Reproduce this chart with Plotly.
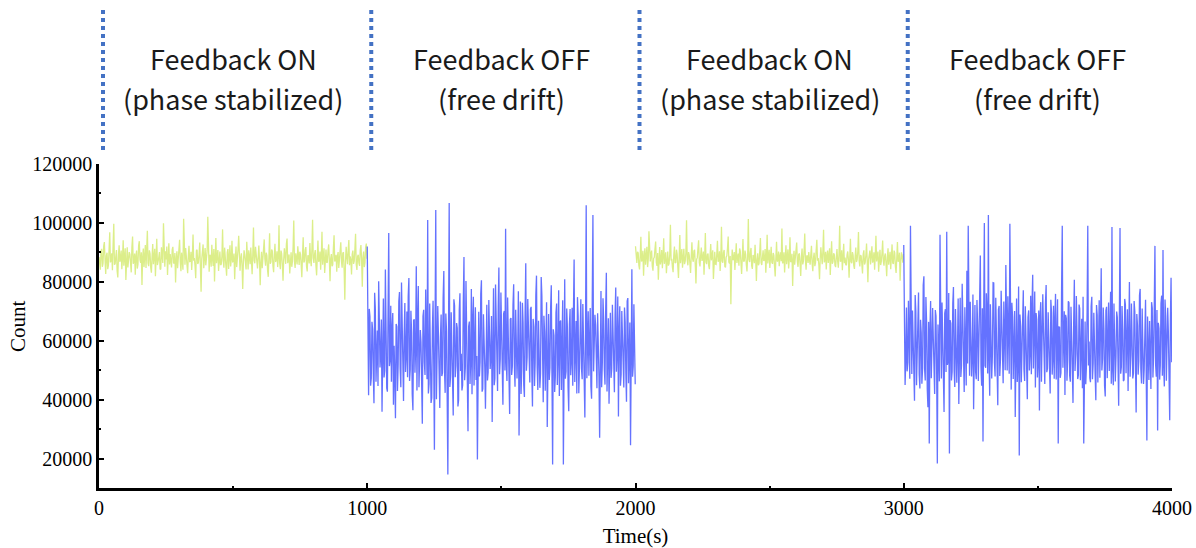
import numpy as np
import plotly.graph_objects as go

# ---------------- data ----------------
segment_starts = [0, 1000, 2000, 3000]
segment_length = 1000
boundaries = [0, 1000, 2000, 3000, 4000]
labels_top = ["Feedback ON", "Feedback OFF", "Feedback ON", "Feedback OFF"]
labels_bottom = ["(phase stabilized)", "(free drift)", "(phase stabilized)", "(free drift)"]

on_1 = [
    88400, 86200, 84100, 90300, 91200, 85100, 86300, 92100, 93500, 87400, 82700, 88900, 89900, 84300, 85600, 91000, 96800, 86600, 87200, 89700,
    83900, 92600, 99700, 85800, 86100, 88500, 90800, 83700, 81500, 89300, 92400, 86800, 87700, 90600, 84300, 88000, 94100, 85500, 88900, 91400,
    80600, 87900, 91700, 84900, 86800, 90100, 89300, 85400, 83200, 91800, 95400, 86100, 87100, 89600, 82400, 88700, 90600, 84500, 85900, 92300,
    93800, 87500, 86400, 90000, 78900, 88400, 91300, 85000, 88200, 92500, 84700, 89100, 97300, 86300, 85300, 90700, 89600, 84800, 83100, 88600,
    92800, 86000, 87900, 91200, 81900, 89000, 94600, 85700, 86700, 88300, 90100, 84200, 84400, 91700, 88800, 86400, 99900, 87600, 85100, 90400,
    87600, 92000, 82300, 88100, 93100, 85900, 89400, 87000, 84900, 90900, 91900, 86500, 86200, 89800, 79800, 87300, 90400, 84600, 88600, 91300,
    94300, 86700, 83600, 89900, 87300, 84100, 101400, 88200, 85800, 91500, 89200, 85200, 82900, 88800, 92200, 86900, 87000, 90200, 84000, 88500,
    96100, 87200, 88100, 85300, 81200, 90600, 90900, 86100, 86500, 89400, 93300, 84700, 76600, 87800, 89800, 92700, 84600, 88900, 91500, 85600,
    87400, 90500, 102100, 86400, 83400, 89200, 88700, 85100, 92600, 87900, 85400, 91100, 80100, 88000, 94900, 86300, 87800, 90800, 83700, 89500,
    90300, 85700, 86000, 88700, 97800, 87100, 84800, 91600, 89100, 86600, 82100, 90000, 91100, 84400, 88300, 92400, 85200, 87700, 93900, 86800,
    86900, 89600, 80900, 87400, 92000, 85000, 87500, 90900, 95600, 86200, 83800, 88100, 89700, 85300, 77600, 86900, 90700, 89000, 86600, 84200,
    93600, 88300, 84200, 90700, 88500, 86000, 91600, 84900, 82600, 89500, 98400, 87300, 86300, 91900, 89000, 85800, 84500, 88400, 92300, 87100,
    78800, 86500, 90200, 84600, 87200, 91300, 94400, 87800, 85500, 89900, 88900, 83900, 81700, 88600, 96500, 86100, 86800, 91000, 90500, 85400,
    83300, 89100, 92900, 86700, 87700, 90400, 85000, 88200, 99200, 86400, 84300, 90600, 89500, 85600, 80400, 87500, 91400, 88800, 86100, 92800,
    94700, 86300, 88000, 89300, 82800, 87700, 90000, 85100, 86900, 91800, 100800, 87000, 84700, 89700, 88400, 85900, 92100, 87300, 85700, 90200,
    89300, 86000, 81600, 88900, 95100, 86600, 87100, 90800, 91800, 85200, 83500, 89000, 88700, 86200, 93200, 87600, 85300, 91200, 101100, 88100,
    86400, 89400, 90800, 85500, 82200, 88300, 94000, 86800, 87300, 90300, 84100, 88700, 97000, 85800, 88800, 91400, 83000, 87200, 91000, 86500,
    86700, 90600, 92700, 87100, 80200, 88000, 89400, 85300, 85800, 91600, 95800, 86900, 87600, 89200, 83400, 88500, 90100, 84700, 88200, 92100,
    93400, 87000, 84800, 89800, 89900, 83800, 73900, 86800, 91900, 88400, 86000, 90700, 94200, 85600, 88600, 87400, 82500, 89300, 90600, 86100,
    87000, 91100, 96300, 85900, 84000, 88600, 89200, 86300, 85400, 90900, 92500, 87500, 78300, 88100, 90300, 85000, 86500, 91700, 93000, 87800,
]

off_2 = [
    92000, 52000, 41500, 70800, 68200, 44700, 47300, 66400, 63900, 48800, 38800, 76300, 71200, 46100, 52400, 63500, 44600, 80200, 66700, 50900,
    55100, 67200, 35900, 61800, 74300, 47500, 49800, 84200, 61200, 43900, 42700, 68600, 96600, 51400, 53500, 71900, 46100, 64300, 69400, 38300,
    58300, 48200, 33700, 65700, 64800, 42900, 51900, 73400, 76500, 50600, 44200, 79800, 60100, 45500, 39500, 62200, 72800, 49400, 54700, 69900,
    47600, 75100, 81300, 46300, 50200, 70200, 62900, 41700, 36400, 66900, 67300, 49100, 56800, 85300, 43100, 67800, 78600, 44200, 52100, 63600,
    59600, 43600, 31800, 68300, 70500, 52700, 48400, 77400, 65100, 46900, 101000, 42100, 45300, 72600, 57400, 38900, 40600, 64000, 73600, 51800,
    23000, 66100, 104400, 40100, 53800, 71800, 61700, 45800, 37200, 61300, 68900, 48000, 49100, 74500, 83700, 50300, 42300, 69200, 63400, 41200,
    14600, 62700, 106800, 44300, 47800, 69700, 58900, 42400, 34600, 74100, 71900, 47600, 51500, 66000, 64300, 37700, 39900, 70300, 76100, 49700,
    55600, 43100, 44900, 72800, 88400, 46600, 50700, 80300, 62100, 40900, 29300, 64900, 66500, 45300, 53100, 77600, 41800, 67400, 74900, 44800,
    57900, 71400, 46700, 54800, 19700, 66700, 69800, 47900, 52800, 75900, 80500, 42700, 43600, 69000, 61500, 50800, 36900, 63100, 72200, 46500,
    49300, 73800, 65900, 50400, 55000, 68400, 32400, 66000, 77800, 44900, 47100, 79100, 60600, 51300, 42900, 71600, 84900, 48600, 53700, 76400,
    63700, 45700, 38300, 69100, 70100, 49900, 98000, 52500, 46300, 74700, 58100, 43800, 35100, 67300, 67700, 48400, 51200, 72100, 79200, 52100,
    44400, 70500, 62600, 47200, 56300, 76800, 27800, 64600, 73300, 41900, 50100, 72900, 66100, 45100, 40900, 68300, 86300, 49800, 54300, 74200,
    60900, 46200, 45800, 70700, 71500, 49300, 37700, 67400, 64700, 44600, 52500, 75400, 82100, 50900, 43300, 66800, 59200, 44000, 48900, 81600,
    75300, 47800, 39100, 68500, 63100, 43000, 55800, 73100, 30700, 65300, 69100, 46700, 50900, 71000, 78800, 49000, 18000, 63900, 61800, 42600,
    47500, 69600, 72600, 45000, 54100, 77100, 41200, 66300, 66900, 43300, 59500, 73700, 18000, 60800, 80900, 47100, 49600, 70900, 64500, 44100,
    36100, 65600, 70800, 48300, 53300, 71200, 44700, 69800, 87600, 46000, 57100, 66700, 42100, 74800, 68300, 42200, 51700, 67900, 74100, 50500,
    46900, 72500, 62300, 45900, 33900, 64400, 106000, 47300, 55300, 70000, 48100, 68100, 71100, 44500, 40300, 73900, 102700, 49600, 57700, 68800,
    65300, 46400, 43900, 69300, 59900, 48100, 27100, 65800, 76900, 44200, 52300, 74400, 67100, 50200, 45100, 70600, 83100, 42800, 54900, 67600,
    38600, 67000, 69500, 47400, 50500, 72200, 63500, 45300, 42500, 68700, 78100, 49500, 56100, 75000, 34300, 63200, 71700, 44700, 48500, 70100,
    61300, 47000, 44100, 71300, 66300, 49200, 39300, 73500, 74500, 45600, 53900, 66200, 24500, 68900, 84300, 47800, 51300, 72400, 60300, 45200,
]

on_3 = [
    92100, 87300, 86400, 90200, 89800, 85600, 84200, 88800, 95300, 86900, 87600, 90500, 82100, 88400, 91400, 85800, 88700, 91900, 85000, 87700,
    97200, 88100, 86900, 89500, 90600, 85300, 83800, 87900, 88300, 91200, 93700, 86600, 85400, 89800, 80700, 87000, 91800, 85900, 87300, 90800,
    84600, 88900, 94800, 86100, 88100, 90000, 82900, 87500, 90300, 85500, 86200, 89300, 99400, 87200, 87800, 84900, 83300, 89100, 92000, 86400,
    86600, 90900, 89400, 85100, 81300, 88600, 95900, 86300, 88500, 91100, 84800, 88000, 91200, 86000, 87000, 89700, 100900, 87400, 85600, 90100,
    89100, 86200, 83000, 88700, 93400, 87900, 86800, 90500, 90900, 85700, 79400, 87600, 88200, 91400, 94100, 86500, 85200, 89000, 91600, 87100,
    87900, 90300, 82400, 88300, 96600, 86700, 86000, 89200, 89600, 85400, 84300, 88900, 92800, 87300, 88400, 90700, 81000, 87600, 90200, 86000,
    85900, 89400, 93900, 86800, 87400, 90400, 83700, 88100, 98700, 87000, 86500, 89900, 90800, 85200, 84900, 88400, 88800, 91500, 95400, 86700,
    86200, 88800, 72400, 85700, 91000, 87400, 87700, 90100, 84000, 88500, 93100, 86400, 88000, 89600, 85500, 91300, 90400, 86100, 82700, 88200,
    94500, 86900, 87100, 90600, 89300, 85800, 83500, 88700, 101300, 87500, 86700, 90000, 91500, 85400, 84400, 89100, 88600, 86300, 92600, 87800,
    80300, 87200, 89700, 85600, 86300, 90400, 94900, 86500, 85700, 88300, 90700, 87100, 87500, 91100, 83100, 88000, 96000, 86200, 88900, 90900,
    84700, 88600, 91900, 86600, 86100, 89800, 89000, 85100, 81800, 88000, 93600, 86900, 87200, 90300, 85300, 88700, 90000, 87000, 98100, 86300,
    86600, 90000, 83200, 88200, 92400, 86000, 88300, 91000, 84500, 87700, 95100, 86700, 86900, 89500, 78600, 87300, 90500, 85800, 87800, 91200,
    93300, 86800, 85100, 89400, 89500, 86100, 82000, 88300, 91300, 85900, 87000, 90600, 96400, 87400, 84100, 88900, 88700, 86400, 90100, 87600,
    85800, 89300, 92200, 86200, 83600, 88100, 89900, 85300, 86400, 90800, 94300, 87200, 88100, 85700, 80900, 87800, 91700, 88600, 86000, 90500,
    97700, 86600, 87400, 90200, 84200, 88800, 90600, 86400, 88500, 91400, 82300, 87900, 93800, 86100, 86800, 89700, 89200, 85600, 85000, 88400,
    91100, 87000, 84800, 89600, 99000, 86900, 87100, 90700, 83900, 88500, 92900, 86300, 88200, 85900, 85600, 89200, 90300, 87500, 81400, 88000,
    94600, 86800, 86300, 90100, 89100, 85500, 84400, 88600, 91600, 86700, 87500, 90400, 96900, 87100, 85200, 88900, 88800, 86000, 82800, 89300,
    90700, 85900, 86600, 89000, 93000, 87200, 79900, 87500, 89300, 90600, 85900, 88100, 92100, 86500, 87300, 90000, 84100, 88700, 95600, 86900,
    88000, 90300, 83400, 87400, 90900, 85700, 86900, 89700, 94000, 87000, 85500, 88800, 89600, 86200, 81900, 88300, 91400, 85800, 87700, 90200,
    84300, 88900, 92700, 86400, 86100, 90600, 89800, 85100, 83000, 88200, 93500, 86800, 87200, 89900, 80400, 87100, 90000, 88500, 86500, 89400,
]

off_4 = [
    92500, 68700, 45000, 53200, 71300, 49600, 52600, 73600, 64100, 47100, 99000, 52400, 48700, 70300, 57900, 46800, 39600, 75500, 69800, 44900,
    54200, 72000, 76400, 48600, 43800, 67100, 62700, 45400, 50300, 78900, 81900, 50700, 46500, 74800, 66200, 43600, 37400, 66400, 25100, 63800,
    73500, 47300, 55700, 71100, 60800, 45800, 41900, 70400, 68400, 49800, 18300, 65500, 58600, 46200, 96000, 53100, 47200, 73000, 63600, 48700,
    35800, 69300, 70700, 49400, 97000, 51800, 53100, 76200, 21700, 67000, 65900, 46500, 49400, 72700, 78200, 50100, 44300, 70800, 61100, 45700,
    56900, 74300, 38500, 66800, 74600, 47700, 51600, 79300, 67700, 50900, 42600, 71400, 59300, 44800, 83800, 52300, 99000, 48400, 48100, 73200,
    62900, 47900, 54600, 75700, 36700, 68200, 72100, 49500, 46900, 73800, 65300, 46300, 58100, 77800, 88900, 51200, 44700, 71000, 25800, 67700,
    100000, 51500, 50800, 76100, 69300, 48900, 102700, 53600, 41300, 72400, 61900, 47200, 55300, 79700, 79600, 52600, 47900, 74600, 63300, 46600,
    38100, 70600, 71800, 48000, 53600, 77000, 66800, 46900, 45600, 73300, 57300, 50000, 85700, 52800, 49900, 75100, 60400, 48800, 99700, 54000,
    43400, 72900, 68100, 47000, 54900, 70100, 34100, 66600, 74300, 46000, 51900, 78400, 21000, 68900, 64900, 45900, 58400, 74000, 77100, 50300,
    46300, 71700, 62300, 47600, 40100, 68000, 70300, 49900, 55900, 75300, 48600, 72200, 82400, 50600, 59100, 76700, 44100, 69400, 67300, 47500,
    52900, 70300, 36300, 68500, 73100, 46100, 57600, 75800, 63900, 48000, 45300, 72800, 78900, 49300, 50600, 69700, 61600, 45000, 42100, 73900,
    69600, 48500, 54100, 71900, 47100, 67200, 75900, 46800, 56400, 74100, 25100, 64700, 64600, 47400, 49100, 77200, 99000, 50800, 58800, 70000,
    41600, 68800, 67600, 46400, 53400, 73400, 72900, 48300, 46100, 71500, 60100, 45500, 38900, 66300, 80700, 49700, 55500, 75200, 63100, 47000,
    48300, 72300, 70900, 46600, 57100, 67500, 43900, 74900, 25100, 63900, 66500, 45200, 51300, 70500, 99000, 51600, 59700, 47400, 45900, 71700,
    74900, 46900, 52300, 69500, 62600, 48200, 39800, 72100, 68700, 45800, 56100, 73700, 47400, 68100, 84600, 49900, 53800, 71300, 64300, 44600,
    41100, 70200, 71500, 47300, 58300, 73000, 49700, 68700, 76600, 45400, 98600, 50100, 44900, 72600, 61300, 46200, 54400, 69900, 67900, 47700,
    37900, 67400, 98300, 48800, 51100, 71800, 63700, 46300, 46700, 74200, 72300, 49000, 57500, 70700, 42900, 66900, 79900, 47800, 55100, 72600,
    60600, 47200, 48900, 73500, 69900, 46000, 35600, 69100, 65100, 48500, 53100, 75400, 77600, 50400, 45500, 70900, 62100, 45300, 50300, 71900,
    73900, 48700, 26100, 68200, 58900, 46700, 66700, 49100, 43600, 73100, 71100, 47500, 54600, 72000, 92200, 51900, 47800, 70400, 29500, 66100,
    64100, 46800, 51700, 72700, 75300, 48100, 90800, 50900, 44500, 74000, 68400, 46400, 56600, 71200, 62800, 48300, 33000, 67300, 81400, 52700,
]

series = [on_1, off_2, on_3, off_4]
colors = ["#dcee8a", "#6472ff", "#dcee8a", "#6472ff"]

# ---------------- layout constants (pixels) ----------------
W, H = 1196, 548
ML, MR, MT, MB = 99, 24, 164, 60
plot_w = W - ML - MR
plot_h = H - MT - MB


def paper_y(py):
    return (H - MB - py) / plot_h


def paper_x(px):
    return (px - ML) / plot_w


fig = go.Figure()
for start, vals, col in zip(segment_starts, series, colors):
    xs = np.linspace(start, start + segment_length - 1, len(vals))
    fig.add_trace(go.Scatter(
        x=xs, y=vals, mode="lines",
        line=dict(color=col, width=1.3),
        hoverinfo="skip", showlegend=False,
    ))

# dotted separators
for b in boundaries:
    fig.add_shape(
        type="line", xref="x", yref="paper",
        xsizemode="pixel", xanchor=b, x0=4, x1=4,
        y0=paper_y(10), y1=paper_y(150),
        line=dict(color="#4472c4", width=4, dash="dot"),
    )

# phase labels
label_font = dict(family="Noto Sans CJK SC", size=27, color="#1a1a1a")
for start, t1, t2 in zip(segment_starts, labels_top, labels_bottom):
    xc = start + segment_length / 2
    fig.add_annotation(x=xc, y=paper_y(59), xref="x", yref="paper",
                       text=t1, showarrow=False, xanchor="center", yanchor="middle",
                       font=label_font)
    fig.add_annotation(x=xc, y=paper_y(98), xref="x", yref="paper",
                       text=t2, showarrow=False, xanchor="center", yanchor="middle",
                       font=label_font)

axis_font = dict(family="Liberation Serif", size=20, color="black")
title_font = dict(family="Liberation Serif", size=21, color="black")

# y-axis title as a rotated annotation for exact placement
fig.add_annotation(x=paper_x(18), y=0.5, xref="paper", yref="paper",
                   text="Count", textangle=-90, showarrow=False,
                   xanchor="center", yanchor="middle", font=title_font)

fig.update_layout(
    width=W, height=H,
    margin=dict(l=ML, r=MR, t=MT, b=MB, autoexpand=False),
    paper_bgcolor="white", plot_bgcolor="white",
    xaxis=dict(
        range=[0, 4000], tickvals=boundaries, tickformat="d", automargin=False,
        showgrid=False, zeroline=False, showline=True, linecolor="black", linewidth=2.5,
        ticks="inside", ticklen=5, tickwidth=2, tickcolor="black",
        minor=dict(dtick=500, tick0=0, ticks="inside", ticklen=2.5, tickwidth=2, tickcolor="black"),
        tickfont=axis_font,
        title=dict(text="Time(s)", font=title_font, standoff=14),
    ),
    yaxis=dict(
        range=[10000, 120000], tick0=0, dtick=20000, tickformat="d", automargin=False,
        showgrid=False, zeroline=False, showline=True, linecolor="black", linewidth=2.5,
        ticks="inside", ticklen=5, tickwidth=2, tickcolor="black",
        minor=dict(dtick=10000, tick0=0, ticks="inside", ticklen=2.5, tickwidth=2, tickcolor="black"),
        tickfont=axis_font,
    ),
)

fig.write_html(
    "out.html",
    config={"displayModeBar": False},
    post_script="document.body.style.margin='0';document.body.style.overflow='hidden';",
)
